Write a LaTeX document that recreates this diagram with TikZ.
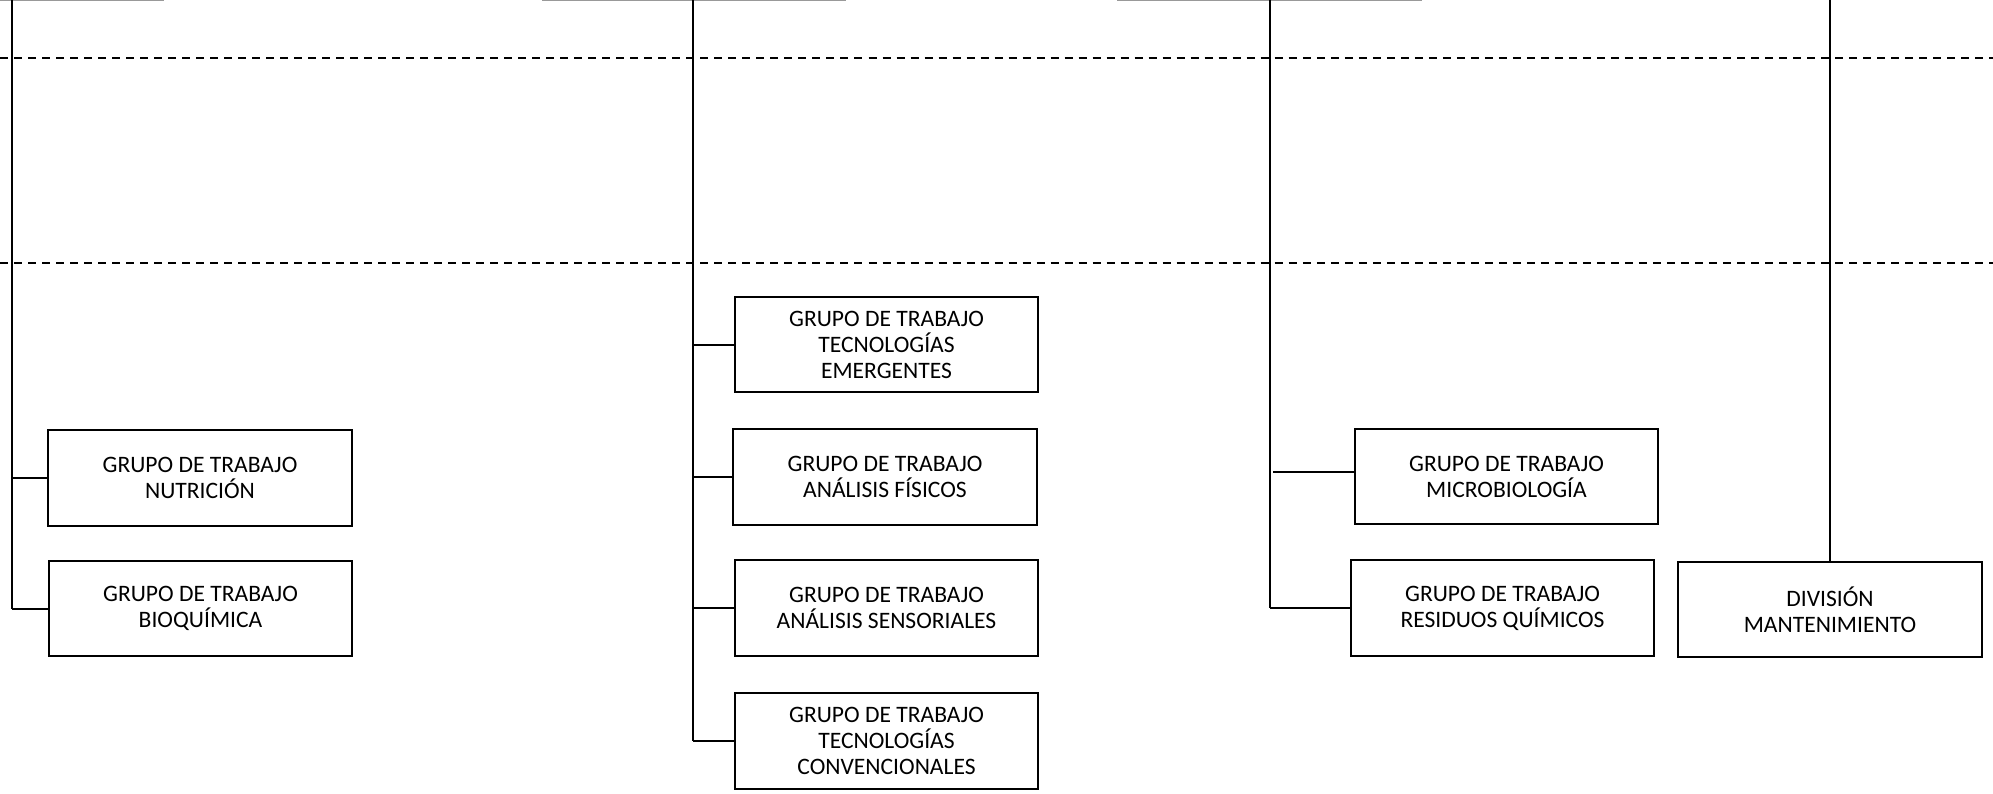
\documentclass[tikz,border=0pt]{standalone}
\usepackage{fontspec}
\setmainfont{Carlito}
\usepackage{tikz}
\usepackage[dvipsnames]{xcolor}

\begin{document}
\begin{tikzpicture}[x=0.01cm,y=-0.01cm]
        \useasboundingbox (0,0) rectangle (1993,793);

        % separadores y lineas superiores
        \begin{scope}[line width=0.02cm]
            \draw[dash pattern=on 0.08cm off 0.06cm] (0,58) -- (1993,58);
            \draw[dash pattern=on 0.08cm off 0.06cm] (0,263) -- (1993,263);
            \draw[gray!80] (0,0) -- (164,0);
            \draw[gray!80] (542,0) -- (846,0);
            \draw[gray!80] (1117,0) -- (1422,0);
        \end{scope}

        \begin{scope}[
            every node/.style={shape=rectangle,draw=black,line width=0.02cm,
                minimum width=3.03cm,minimum height=0.95cm,inner sep=0pt,
                align=center,font=\fontsize{6.7pt}{7.4pt}\selectfont}
        ]
            \node (nut) at (200,478) {GRUPO DE TRABAJO\\NUTRICIÓN};
            \node (bio) at (200.5,608.5) {GRUPO DE TRABAJO\\BIOQUÍMICA};

            \node (eme) at (886.5,344.5) {GRUPO DE TRABAJO\\TECNOLOGÍAS\\EMERGENTES};
            \node (fis) at (885,477) {GRUPO DE TRABAJO\\ANÁLISIS FÍSICOS};
            \node (sen) at (886.5,608) {GRUPO DE TRABAJO\\ANÁLISIS SENSORIALES};
            \node (con) at (886.5,741) {GRUPO DE TRABAJO\\TECNOLOGÍAS\\CONVENCIONALES};

            \node (mic) at (1506.5,476.5) {GRUPO DE TRABAJO\\MICROBIOLOGÍA};
            \node (res) at (1502.5,608) {GRUPO DE TRABAJO\\RESIDUOS QUÍMICOS};

            \node (man) at (1830,609.5) {DIVISIÓN\\MANTENIMIENTO};
        \end{scope}

        \coordinate (A0) at (12,0);
        \coordinate (B0) at (693,0);
        \coordinate (C0) at (1270,0);
        \coordinate (C2) at (1273,472);
        \coordinate (D0) at (1830,0);

        \begin{scope}[
            every edge/.style={draw=black,line width=0.02cm}
        ]
            \path [-] (A0) edge (A0 |- bio);
            \path [-] (A0 |- nut) edge (nut);
            \path [-] (A0 |- bio) edge (bio);

            \path [-] (B0) edge (B0 |- con);
            \path [-] (B0 |- eme) edge (eme);
            \path [-] (B0 |- fis) edge (fis);
            \path [-] (B0 |- sen) edge (sen);
            \path [-] (B0 |- con) edge (con);

            \path [-] (C0) edge (C0 |- res);
            \path [-] (C2) edge (C2 -| mic.west);
            \path [-] (C0 |- res) edge (res);

            \path [-] (D0) edge (man.north);
        \end{scope}
    \end{tikzpicture}
\end{document}
